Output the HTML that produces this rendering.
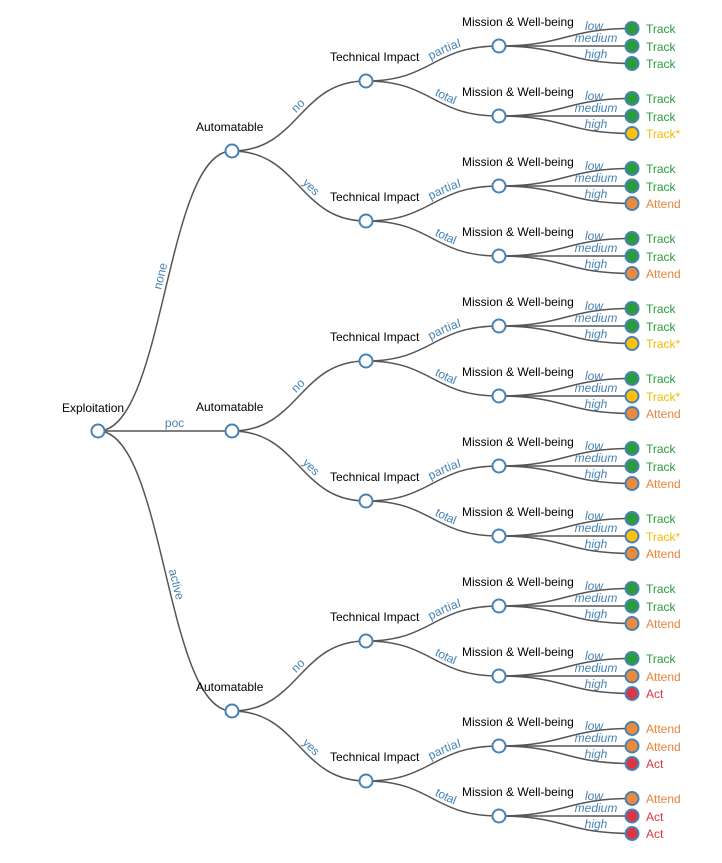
<!DOCTYPE html>
<html><head><meta charset="utf-8"><style>
html,body{margin:0;padding:0;background:#fff;}
svg{display:block;font-family:"Liberation Sans",Arial,sans-serif;font-size:12px;}
.l{fill:none;stroke:#555;stroke-width:1.5;}
.n{fill:#fff;stroke:#4682b4;stroke-width:2;}
.e{fill:#4682b4;}
.t{fill:#000;}
.g{fill:#2a9d3b;}.y{fill:#f5b800;}.o{fill:#e8843a;}.r{fill:#dc3545;}
.cg{fill:#2a9d3b;stroke:#4682b4;stroke-width:2}
.cy{fill:#ffc107;stroke:#4682b4;stroke-width:2}
.co{fill:#ec8a3c;stroke:#4682b4;stroke-width:2}
.cr{fill:#dc3545;stroke:#4682b4;stroke-width:2}
</style></head><body>
<svg width="722" height="863" viewBox="0 0 722 863">
<!-- level 1 -->
<path id="a0" class="l" d="M98,431C165,431 165,151 232,151"/>
<path id="a1" class="l" d="M98,431C165,431 165,431 232,431"/>
<path id="a2" class="l" d="M98,431C165,431 165,711 232,711"/>
<text class="e" dy="-4"><textPath href="#a0" startOffset="50%">none</textPath></text>
<text class="e" dy="-4"><textPath href="#a1" startOffset="50%">poc</textPath></text>
<text class="e" dy="-4"><textPath href="#a2" startOffset="50%">active</textPath></text>
<!-- level 2 -->
<path id="b0" class="l" d="M232,151C299,151 299,81 366,81"/>
<path id="b1" class="l" d="M232,151C299,151 299,221 366,221"/>
<path id="b2" class="l" d="M232,431C299,431 299,361 366,361"/>
<path id="b3" class="l" d="M232,431C299,431 299,501 366,501"/>
<path id="b4" class="l" d="M232,711C299,711 299,641 366,641"/>
<path id="b5" class="l" d="M232,711C299,711 299,781 366,781"/>
<text class="e" dy="-4"><textPath href="#b0" startOffset="50%">no</textPath></text>
<text class="e" dy="-4"><textPath href="#b1" startOffset="50%">yes</textPath></text>
<text class="e" dy="-4"><textPath href="#b2" startOffset="50%">no</textPath></text>
<text class="e" dy="-4"><textPath href="#b3" startOffset="50%">yes</textPath></text>
<text class="e" dy="-4"><textPath href="#b4" startOffset="50%">no</textPath></text>
<text class="e" dy="-4"><textPath href="#b5" startOffset="50%">yes</textPath></text>
<!-- level 3 -->
<path id="c0" class="l" d="M366,81C432.5,81 432.5,46 499,46"/>
<path id="c1" class="l" d="M366,81C432.5,81 432.5,116 499,116"/>
<path id="c2" class="l" d="M366,221C432.5,221 432.5,186 499,186"/>
<path id="c3" class="l" d="M366,221C432.5,221 432.5,256 499,256"/>
<path id="c4" class="l" d="M366,361C432.5,361 432.5,326 499,326"/>
<path id="c5" class="l" d="M366,361C432.5,361 432.5,396 499,396"/>
<path id="c6" class="l" d="M366,501C432.5,501 432.5,466 499,466"/>
<path id="c7" class="l" d="M366,501C432.5,501 432.5,536 499,536"/>
<path id="c8" class="l" d="M366,641C432.5,641 432.5,606 499,606"/>
<path id="c9" class="l" d="M366,641C432.5,641 432.5,676 499,676"/>
<path id="c10" class="l" d="M366,781C432.5,781 432.5,746 499,746"/>
<path id="c11" class="l" d="M366,781C432.5,781 432.5,816 499,816"/>
<text class="e" dy="-4"><textPath href="#c0" startOffset="50%">partial</textPath></text>
<text class="e" dy="-4"><textPath href="#c1" startOffset="50%">total</textPath></text>
<text class="e" dy="-4"><textPath href="#c2" startOffset="50%">partial</textPath></text>
<text class="e" dy="-4"><textPath href="#c3" startOffset="50%">total</textPath></text>
<text class="e" dy="-4"><textPath href="#c4" startOffset="50%">partial</textPath></text>
<text class="e" dy="-4"><textPath href="#c5" startOffset="50%">total</textPath></text>
<text class="e" dy="-4"><textPath href="#c6" startOffset="50%">partial</textPath></text>
<text class="e" dy="-4"><textPath href="#c7" startOffset="50%">total</textPath></text>
<text class="e" dy="-4"><textPath href="#c8" startOffset="50%">partial</textPath></text>
<text class="e" dy="-4"><textPath href="#c9" startOffset="50%">total</textPath></text>
<text class="e" dy="-4"><textPath href="#c10" startOffset="50%">partial</textPath></text>
<text class="e" dy="-4"><textPath href="#c11" startOffset="50%">total</textPath></text>
<!-- level 4 leaf links -->
<g class="l">
<path d="M499,46C565.5,46 565.5,28.5 632,28.5"/><path d="M499,46L632,46"/><path d="M499,46C565.5,46 565.5,63.5 632,63.5"/>
<path d="M499,116C565.5,116 565.5,98.5 632,98.5"/><path d="M499,116L632,116"/><path d="M499,116C565.5,116 565.5,133.5 632,133.5"/>
<path d="M499,186C565.5,186 565.5,168.5 632,168.5"/><path d="M499,186L632,186"/><path d="M499,186C565.5,186 565.5,203.5 632,203.5"/>
<path d="M499,256C565.5,256 565.5,238.5 632,238.5"/><path d="M499,256L632,256"/><path d="M499,256C565.5,256 565.5,273.5 632,273.5"/>
<path d="M499,326C565.5,326 565.5,308.5 632,308.5"/><path d="M499,326L632,326"/><path d="M499,326C565.5,326 565.5,343.5 632,343.5"/>
<path d="M499,396C565.5,396 565.5,378.5 632,378.5"/><path d="M499,396L632,396"/><path d="M499,396C565.5,396 565.5,413.5 632,413.5"/>
<path d="M499,466C565.5,466 565.5,448.5 632,448.5"/><path d="M499,466L632,466"/><path d="M499,466C565.5,466 565.5,483.5 632,483.5"/>
<path d="M499,536C565.5,536 565.5,518.5 632,518.5"/><path d="M499,536L632,536"/><path d="M499,536C565.5,536 565.5,553.5 632,553.5"/>
<path d="M499,606C565.5,606 565.5,588.5 632,588.5"/><path d="M499,606L632,606"/><path d="M499,606C565.5,606 565.5,623.5 632,623.5"/>
<path d="M499,676C565.5,676 565.5,658.5 632,658.5"/><path d="M499,676L632,676"/><path d="M499,676C565.5,676 565.5,693.5 632,693.5"/>
<path d="M499,746C565.5,746 565.5,728.5 632,728.5"/><path d="M499,746L632,746"/><path d="M499,746C565.5,746 565.5,763.5 632,763.5"/>
<path d="M499,816C565.5,816 565.5,798.5 632,798.5"/><path d="M499,816L632,816"/><path d="M499,816C565.5,816 565.5,833.5 632,833.5"/>
</g>
<!-- leaf edge labels -->
<g class="e" text-anchor="middle" font-style="italic">
<text x="594" y="30">low</text><text x="596" y="42">medium</text><text x="596" y="58">high</text>
<text x="594" y="100">low</text><text x="596" y="112">medium</text><text x="596" y="128">high</text>
<text x="594" y="170">low</text><text x="596" y="182">medium</text><text x="596" y="198">high</text>
<text x="594" y="240">low</text><text x="596" y="252">medium</text><text x="596" y="268">high</text>
<text x="594" y="310">low</text><text x="596" y="322">medium</text><text x="596" y="338">high</text>
<text x="594" y="380">low</text><text x="596" y="392">medium</text><text x="596" y="408">high</text>
<text x="594" y="450">low</text><text x="596" y="462">medium</text><text x="596" y="478">high</text>
<text x="594" y="520">low</text><text x="596" y="532">medium</text><text x="596" y="548">high</text>
<text x="594" y="590">low</text><text x="596" y="602">medium</text><text x="596" y="618">high</text>
<text x="594" y="660">low</text><text x="596" y="672">medium</text><text x="596" y="688">high</text>
<text x="594" y="730">low</text><text x="596" y="742">medium</text><text x="596" y="758">high</text>
<text x="594" y="800">low</text><text x="596" y="812">medium</text><text x="596" y="828">high</text>
</g>
<!-- internal nodes -->
<circle class="n" cx="98" cy="431" r="6.5"/>
<circle class="n" cx="232" cy="151" r="6.5"/><circle class="n" cx="232" cy="431" r="6.5"/><circle class="n" cx="232" cy="711" r="6.5"/>
<circle class="n" cx="366" cy="81" r="6.5"/><circle class="n" cx="366" cy="221" r="6.5"/><circle class="n" cx="366" cy="361" r="6.5"/><circle class="n" cx="366" cy="501" r="6.5"/><circle class="n" cx="366" cy="641" r="6.5"/><circle class="n" cx="366" cy="781" r="6.5"/>
<circle class="n" cx="499" cy="46" r="6.5"/><circle class="n" cx="499" cy="116" r="6.5"/><circle class="n" cx="499" cy="186" r="6.5"/><circle class="n" cx="499" cy="256" r="6.5"/><circle class="n" cx="499" cy="326" r="6.5"/><circle class="n" cx="499" cy="396" r="6.5"/><circle class="n" cx="499" cy="466" r="6.5"/><circle class="n" cx="499" cy="536" r="6.5"/><circle class="n" cx="499" cy="606" r="6.5"/><circle class="n" cx="499" cy="676" r="6.5"/><circle class="n" cx="499" cy="746" r="6.5"/><circle class="n" cx="499" cy="816" r="6.5"/>
<!-- node labels -->
<g class="t">
<text x="62" y="412">Exploitation</text>
<text x="196" y="131">Automatable</text><text x="196" y="411">Automatable</text><text x="196" y="691">Automatable</text>
<text x="330" y="61">Technical Impact</text><text x="330" y="201">Technical Impact</text><text x="330" y="341">Technical Impact</text><text x="330" y="481">Technical Impact</text><text x="330" y="621">Technical Impact</text><text x="330" y="761">Technical Impact</text>
<text x="462" y="26">Mission &amp; Well-being</text><text x="462" y="96">Mission &amp; Well-being</text><text x="462" y="166">Mission &amp; Well-being</text><text x="462" y="236">Mission &amp; Well-being</text><text x="462" y="306">Mission &amp; Well-being</text><text x="462" y="376">Mission &amp; Well-being</text><text x="462" y="446">Mission &amp; Well-being</text><text x="462" y="516">Mission &amp; Well-being</text><text x="462" y="586">Mission &amp; Well-being</text><text x="462" y="656">Mission &amp; Well-being</text><text x="462" y="726">Mission &amp; Well-being</text><text x="462" y="796">Mission &amp; Well-being</text>
</g>
<!-- leaves -->
<circle class="cg" cx="632" cy="28.5" r="6.5"/><circle class="cg" cx="632" cy="46" r="6.5"/><circle class="cg" cx="632" cy="63.5" r="6.5"/>
<circle class="cg" cx="632" cy="98.5" r="6.5"/><circle class="cg" cx="632" cy="116" r="6.5"/><circle class="cy" cx="632" cy="133.5" r="6.5"/>
<circle class="cg" cx="632" cy="168.5" r="6.5"/><circle class="cg" cx="632" cy="186" r="6.5"/><circle class="co" cx="632" cy="203.5" r="6.5"/>
<circle class="cg" cx="632" cy="238.5" r="6.5"/><circle class="cg" cx="632" cy="256" r="6.5"/><circle class="co" cx="632" cy="273.5" r="6.5"/>
<circle class="cg" cx="632" cy="308.5" r="6.5"/><circle class="cg" cx="632" cy="326" r="6.5"/><circle class="cy" cx="632" cy="343.5" r="6.5"/>
<circle class="cg" cx="632" cy="378.5" r="6.5"/><circle class="cy" cx="632" cy="396" r="6.5"/><circle class="co" cx="632" cy="413.5" r="6.5"/>
<circle class="cg" cx="632" cy="448.5" r="6.5"/><circle class="cg" cx="632" cy="466" r="6.5"/><circle class="co" cx="632" cy="483.5" r="6.5"/>
<circle class="cg" cx="632" cy="518.5" r="6.5"/><circle class="cy" cx="632" cy="536" r="6.5"/><circle class="co" cx="632" cy="553.5" r="6.5"/>
<circle class="cg" cx="632" cy="588.5" r="6.5"/><circle class="cg" cx="632" cy="606" r="6.5"/><circle class="co" cx="632" cy="623.5" r="6.5"/>
<circle class="cg" cx="632" cy="658.5" r="6.5"/><circle class="co" cx="632" cy="676" r="6.5"/><circle class="cr" cx="632" cy="693.5" r="6.5"/>
<circle class="co" cx="632" cy="728.5" r="6.5"/><circle class="co" cx="632" cy="746" r="6.5"/><circle class="cr" cx="632" cy="763.5" r="6.5"/>
<circle class="co" cx="632" cy="798.5" r="6.5"/><circle class="cr" cx="632" cy="816" r="6.5"/><circle class="cr" cx="632" cy="833.5" r="6.5"/>
<g>
<text class="g" x="646" y="33">Track</text><text class="g" x="646" y="51">Track</text><text class="g" x="646" y="68">Track</text>
<text class="g" x="646" y="103">Track</text><text class="g" x="646" y="121">Track</text><text class="y" x="646" y="138">Track*</text>
<text class="g" x="646" y="173">Track</text><text class="g" x="646" y="191">Track</text><text class="o" x="646" y="208">Attend</text>
<text class="g" x="646" y="243">Track</text><text class="g" x="646" y="261">Track</text><text class="o" x="646" y="278">Attend</text>
<text class="g" x="646" y="313">Track</text><text class="g" x="646" y="331">Track</text><text class="y" x="646" y="348">Track*</text>
<text class="g" x="646" y="383">Track</text><text class="y" x="646" y="401">Track*</text><text class="o" x="646" y="418">Attend</text>
<text class="g" x="646" y="453">Track</text><text class="g" x="646" y="471">Track</text><text class="o" x="646" y="488">Attend</text>
<text class="g" x="646" y="523">Track</text><text class="y" x="646" y="541">Track*</text><text class="o" x="646" y="558">Attend</text>
<text class="g" x="646" y="593">Track</text><text class="g" x="646" y="611">Track</text><text class="o" x="646" y="628">Attend</text>
<text class="g" x="646" y="663">Track</text><text class="o" x="646" y="681">Attend</text><text class="r" x="646" y="698">Act</text>
<text class="o" x="646" y="733">Attend</text><text class="o" x="646" y="751">Attend</text><text class="r" x="646" y="768">Act</text>
<text class="o" x="646" y="803">Attend</text><text class="r" x="646" y="821">Act</text><text class="r" x="646" y="838">Act</text>
</g>
</svg>
</body></html>
